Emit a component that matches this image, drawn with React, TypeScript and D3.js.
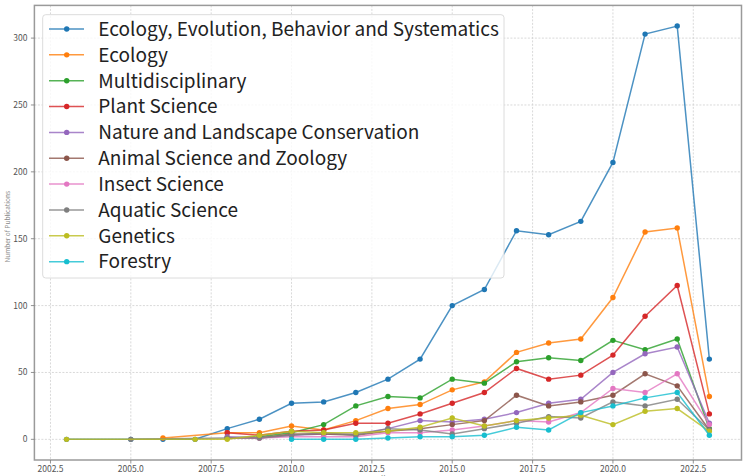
import React from "react";
import * as d3 from "d3";

const years = [2003, 2005, 2006, 2007, 2008, 2009, 2010, 2011, 2012, 2013, 2014, 2015, 2016, 2017, 2018, 2019, 2020, 2021, 2022, 2023];

const seriesNames = [
  "Ecology, Evolution, Behavior and Systematics",
  "Ecology",
  "Multidisciplinary",
  "Plant Science",
  "Nature and Landscape Conservation",
  "Animal Science and Zoology",
  "Insect Science",
  "Aquatic Science",
  "Genetics",
  "Forestry",
];

type V = number | null;
const ecoEvoBehSys: V[] = [0, 0, 0, 0, 8, 15, 27, 28, 35, 45, 60, 100, 112, 156, 153, 163, 207, 303, 309, 60];
const ecology: V[] = [null, null, 1, null, 5, 5, 10, 7, 14, 23, 26, 37, 43, 65, 72, 75, 106, 155, 158, 32];
const multidisciplinary: V[] = [null, null, null, null, 1, 2, 5, 11, 25, 32, 31, 45, 42, 58, 61, 59, 74, 67, 75, 8];
const plantScience: V[] = [null, null, null, null, 5, 3, 6, 7, 12, 12, 19, 27, 35, 53, 45, 48, 63, 92, 115, 19];
const natureConservation: V[] = [null, null, null, null, 2, 1, 3, 4, 4, 8, 14, 13, 15, 20, 27, 30, 50, 64, 69, 12];
const animalScience: V[] = [null, null, null, null, 1, 1, 4, 4, 3, 6, 8, 11, 14, 33, 25, 28, 33, 49, 40, 7];
const insectScience: V[] = [null, null, null, null, 1, 1, 2, 2, 2, 5, 5, 7, 10, 14, 13, 20, 38, 35, 49, 11];
const aquaticScience: V[] = [null, 0, null, null, 1, 1, 3, 5, 3, 8, 7, 4, 8, 12, 17, 16, 28, 25, 30, 7];
const genetics: V[] = [0, null, null, 0, 0, 3, 6, 5, 5, 6, 9, 16, 10, 14, 16, 18, 11, 21, 23, 6];
const forestry: V[] = [null, null, null, null, null, null, 0, 0, 0, 1, 2, 2, 3, 9, 7, 20, 25, 31, 35, 3];

const seriesValues: V[][] = [
  ecoEvoBehSys, ecology, multidisciplinary, plantScience, natureConservation,
  animalScience, insectScience, aquaticScience, genetics, forestry,
];

const xTicks = [2002.5, 2005, 2007.5, 2010, 2012.5, 2015, 2017.5, 2020, 2022.5];
const yTicks = [0, 50, 100, 150, 200, 250, 300];
const xLabel = "Year";
const yLabel = "Number of Publications";

const colors = d3.schemeCategory10;

const W = 752;
const H = 476;
const PL = 34.4, PR = 741.5, PT = 5.4, PB = 460;
const FONT = "'Noto Sans CJK JP', 'Noto Sans', sans-serif";

export default function App() {
  const x = d3.scaleLinear().domain([2002, 2024]).range([PL, PR]);
  const y = d3.scaleLinear().domain([-15.45, 324.45]).range([PB, PT]);
  const line = d3
    .line<[number, number]>()
    .x((d) => x(d[0]))
    .y((d) => y(d[1]));

  const series = seriesValues.map((vals, i) => ({
    name: seriesNames[i],
    color: colors[i],
    pts: years
      .map((yr, j) => [yr, vals[j]] as [number, V])
      .filter((d) => d[1] !== null) as [number, number][],
  }));

  const legX = 42.7, legY = 14.7, legW = 461.3, legH = 263.3;
  const rowY0 = 29, rowStep = 25.85;

  return (
    <svg
      width={W}
      height={H}
      style={{ position: "fixed", left: 0, top: 0, background: "#fff" }}
      fontFamily={FONT}
    >
      <rect x={0} y={0} width={W} height={H} fill="#fff" />
      {/* grid */}
      <g stroke="#cfcfcf" strokeWidth={0.8} strokeDasharray="2 1.5">
        {xTicks.map((t) => (
          <line key={"gx" + t} x1={x(t)} x2={x(t)} y1={PT} y2={PB} />
        ))}
        {yTicks.map((t) => (
          <line key={"gy" + t} x1={PL} x2={PR} y1={y(t)} y2={y(t)} />
        ))}
      </g>
      {/* series */}
      {series.map((s) => (
        <g key={s.name}>
          <path d={line(s.pts) || ""} fill="none" stroke={s.color} strokeWidth={1.5} strokeOpacity={0.8} />
          {s.pts.map((p, k) => (
            <circle key={k} cx={x(p[0])} cy={y(p[1])} r={2.7} fill={s.color} />
          ))}
        </g>
      ))}
      {/* spines */}
      <rect x={PL} y={PT} width={PR - PL} height={PB - PT} fill="none" stroke="#9a9a9a" strokeWidth={1.5} />
      {/* ticks */}
      <g stroke="#777" strokeWidth={0.8}>
        {xTicks.map((t) => (
          <line key={"tx" + t} x1={x(t)} x2={x(t)} y1={PB} y2={PB + 3.5} />
        ))}
        {yTicks.map((t) => (
          <line key={"ty" + t} x1={PL - 3.5} x2={PL} y1={y(t)} y2={y(t)} />
        ))}
      </g>
      <g fontSize={8.5} fill="#555">
        {xTicks.map((t) => (
          <text key={"lx" + t} x={x(t)} y={471.5} textAnchor="middle">
            {d3.format(".1f")(t)}
          </text>
        ))}
        {yTicks.map((t) => (
          <text key={"ly" + t} x={PL - 7} y={y(t)} dy="0.35em" textAnchor="end">
            {t}
          </text>
        ))}
      </g>
      {/* axis labels */}
      <text x={(PL + PR) / 2} y={480} textAnchor="middle" fontSize={6.5} fill="#666">
        {xLabel}
      </text>
      <text
        transform={`translate(10, ${(PT + PB) / 2 - 6}) rotate(-90)`}
        textAnchor="middle"
        fontSize={6.5}
        fill="#888"
      >
        {yLabel}
      </text>
      {/* legend */}
      <rect x={legX} y={legY} width={legW} height={legH} rx={3} fill="#fff" fillOpacity={0.8} stroke="#dcdcdc" strokeWidth={1} />
      {series.map((s, i) => {
        const cy = rowY0 + i * rowStep;
        return (
          <g key={"leg" + i}>
            <line x1={49} x2={84} y1={cy} y2={cy} stroke={s.color} strokeWidth={1.5} strokeOpacity={0.8} />
            <circle cx={66.7} cy={cy} r={2.7} fill={s.color} />
            <text x={98.3} y={cy} dy="0.36em" fontSize={19} fill="#222">
              {s.name}
            </text>
          </g>
        );
      })}
    </svg>
  );
}
